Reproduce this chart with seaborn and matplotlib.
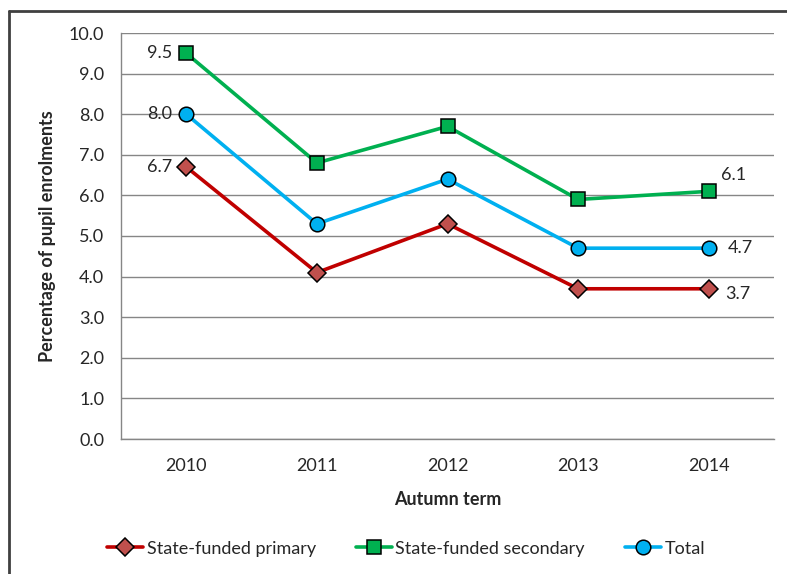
import matplotlib
matplotlib.use("Agg")
import matplotlib.pyplot as plt
from matplotlib.lines import Line2D
import seaborn as sns
import pandas as pd

years = ["2010", "2011", "2012", "2013", "2014"]
primary = [6.7, 4.1, 5.3, 3.7, 3.7]
secondary = [9.5, 6.8, 7.7, 5.9, 6.1]
total = [8.0, 5.3, 6.4, 4.7, 4.7]

sns.set_style("white")
plt.rcParams['font.family'] = ['Lato', 'DejaVu Sans']

df = pd.DataFrame({"year": years, "primary": primary,
                   "secondary": secondary, "total": total})

fig = plt.figure(figsize=(7.87, 5.74), dpi=100)
ax = fig.add_axes([121 / 787, 1 - 439 / 574, (774 - 121) / 787, (439 - 33) / 574])

series = [
    ("primary", "State-funded primary", "#C00000", "#C0504D", "D", 9),
    ("secondary", "State-funded secondary", "#00B050", "#00B050", "s", 10),
    ("total", "Total", "#00B0F0", "#00B0F0", "o", 10.5),
]
for col, label, lc, mc, mk, ms in series:
    sns.lineplot(data=df, x="year", y=col, ax=ax, color=lc, lw=2.6,
                 marker=mk, markersize=ms, markerfacecolor=mc,
                 markeredgecolor="black", markeredgewidth=1.1,
                 label=label, sort=False)

# data labels on first and last points
lab_kw = dict(textcoords="offset points", fontsize=13, color="#262626")
ax.annotate(f"{secondary[0]:.1f}", (0, secondary[0]), xytext=(-10, 0), ha="right", va="center", **lab_kw)
ax.annotate(f"{total[0]:.1f}", (0, total[0]), xytext=(-10, 0), ha="right", va="center", **lab_kw)
ax.annotate(f"{primary[0]:.1f}", (0, primary[0]), xytext=(-10, 0), ha="right", va="center", **lab_kw)
ax.annotate(f"{secondary[-1]:.1f}", (4, secondary[-1]), xytext=(9, 6), ha="left", va="bottom", **lab_kw)
ax.annotate(f"{total[-1]:.1f}", (4, total[-1]), xytext=(14, 0), ha="left", va="center", **lab_kw)
ax.annotate(f"{primary[-1]:.1f}", (4, primary[-1]), xytext=(12, -4), ha="left", va="center", **lab_kw)

ax.set_ylim(0, 10)
ax.set_xlim(-0.5, 4.5)
ax.set_yticks([i for i in range(11)])
ax.set_yticklabels([f"{i:.1f}" for i in range(11)])
ax.set_xticks(range(len(years)))
ax.set_xticklabels(years)
ax.set_xticks([i - 0.5 for i in range(6)], minor=True)
ax.tick_params(axis="x", which="major", length=0, pad=14, labelsize=13, labelcolor="#262626")
ax.tick_params(axis="x", which="minor", length=6, width=1, color="#868686", direction="out")
ax.tick_params(axis="y", length=6, width=1, color="#868686", direction="out", pad=6,
               labelsize=13, labelcolor="#262626")
ax.yaxis.grid(True, color="#868686", lw=1)
ax.set_axisbelow(True)
for s in ["top", "right"]:
    ax.spines[s].set_visible(False)
for s in ["left", "bottom"]:
    ax.spines[s].set_color("#868686")
    ax.spines[s].set_linewidth(1)

ax.set_xlabel("Autumn term", fontsize=13, fontweight="bold", labelpad=12)
ax.set_ylabel("Percentage of pupil enrolments", fontsize=13, fontweight="bold", labelpad=9)

ax.legend(loc="center", bbox_to_anchor=(0.516, 0.044), bbox_transform=fig.transFigure,
          ncol=3, frameon=False, fontsize=13, handlelength=2.0, handletextpad=0.2,
          columnspacing=2.2)

# chart frame lines (top and left)
fig.add_artist(Line2D([9 / 787, 1], [1 - 11 / 574, 1 - 11 / 574], color="#404040", lw=2))
fig.add_artist(Line2D([9 / 787, 9 / 787], [0, 1 - 11 / 574], color="#404040", lw=2))

plt.savefig("out.png", dpi=100)
